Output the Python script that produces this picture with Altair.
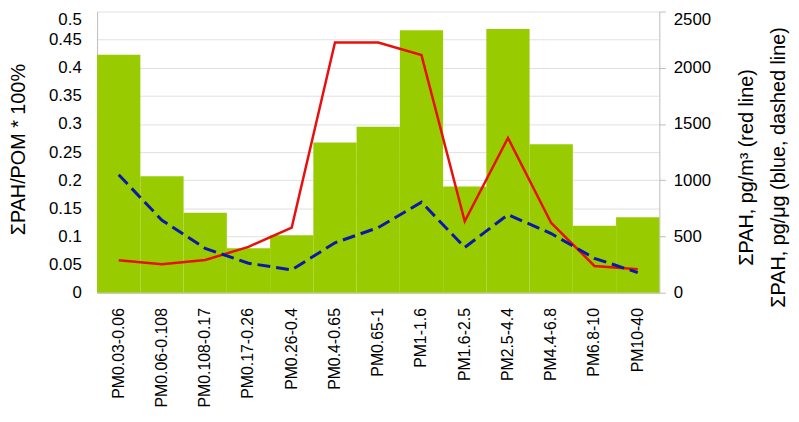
import altair as alt
import pandas as pd

categories = ["PM0.03-0.06", "PM0.06-0.108", "PM0.108-0.17", "PM0.17-0.26",
              "PM0.26-0.4", "PM0.4-0.65", "PM0.65-1", "PM1-1.6", "PM1.6-2.5",
              "PM2.5-4.4", "PM4.4-6.8", "PM6.8-10", "PM10-40"]
pah_pom = [0.423, 0.207, 0.142, 0.079, 0.102, 0.267, 0.295, 0.467, 0.189,
           0.469, 0.264, 0.119, 0.134]
pah_air = [288, 253, 291, 408, 579, 2225, 2225, 2113, 635, 1376, 620, 238, 209]
pah_mass = [1049, 644, 394, 262, 203, 444, 579, 805, 403, 694, 526, 306, 179]

left_ticks = [0, 0.05, 0.1, 0.15, 0.2, 0.25, 0.3, 0.35, 0.4, 0.45, 0.5]
right_ticks = [0, 500, 1000, 1500, 2000, 2500]

df = pd.DataFrame({"cat": categories, "pom": pah_pom, "air": pah_air, "mass": pah_mass})

FONT = "Liberation Sans"

x_enc = alt.X("cat:N", sort=categories,
              scale=alt.Scale(paddingInner=0, paddingOuter=0),
              axis=alt.Axis(title=None, labelAngle=270, labelAlign="right",
                            labelBaseline="middle", labelPadding=15, ticks=False,
                            labelFontSize=16, labelColor="black", labelFont=FONT,
                            domainColor="#bbbbbb", grid=False))

left_baseline = {"condition": {"test": "datum.value >= 0.5", "value": "top"},
                 "value": "middle"}
right_baseline = {"condition": {"test": "datum.value >= 2500", "value": "top"},
                  "value": "middle"}

bars = alt.Chart(df).mark_bar(color="#99cc00").encode(
    x=x_enc,
    y=alt.Y("pom:Q", scale=alt.Scale(domain=[0, 0.5], nice=False),
            title="ΣPAH/POM * 100%",
            axis=alt.Axis(values=left_ticks, format="~g", ticks=False,
                          labelPadding=16, labelFontSize=17, labelColor="black",
                          labelFont=FONT, labelBaseline=left_baseline,
                          domainColor="#bbbbbb",
                          gridColor="#e0e0e0", titleFontSize=20,
                          titleFont=FONT, titleFontWeight="normal",
                          titleColor="black", titleAngle=270,
                          titleBaseline="middle", titleAlign="center",
                          titleX=-79, titleY=139))
)

right_title = ["ΣPAH, pg/m³ (red line)", "ΣPAH, pg/μg (blue, dashed line)"]
right_axis = alt.Axis(values=right_ticks, format="d", orient="right", grid=False,
                      tickSize=6, tickColor="#bbbbbb", labelPadding=8,
                      labelFontSize=17, labelColor="black", labelFont=FONT,
                      labelBaseline=right_baseline,
                      domainColor="#bbbbbb", titleFontSize=20, titleFont=FONT,
                      titleFontWeight="normal", titleColor="black",
                      titleAngle=270, titleBaseline="middle",
                      titleAlign="center", titleLineHeight=32,
                      titleX=88, titleY=157)
yscale = alt.Scale(domain=[0, 2500], nice=False)

red = alt.Chart(df).mark_line(color="#e8100c", strokeWidth=2.5).encode(
    x=x_enc,
    y=alt.Y("air:Q", scale=yscale, title=right_title, axis=right_axis)
)
blue = alt.Chart(df).mark_line(color="#0a1aa8", strokeWidth=3,
                               strokeDash=[13, 6]).encode(
    x=x_enc,
    y=alt.Y("mass:Q", scale=yscale, title=right_title, axis=right_axis)
)

chart = alt.layer(bars, alt.layer(red, blue)).resolve_scale(
    y="independent"
).properties(
    width=568, height=284,
    padding={"left": 90, "top": 1.5, "right": 133, "bottom": 128},
    autosize=alt.AutoSizeParams(type="none"),
).configure_view(stroke=None)

chart.save("out.html", embed_options={"renderer": "svg", "actions": False})
